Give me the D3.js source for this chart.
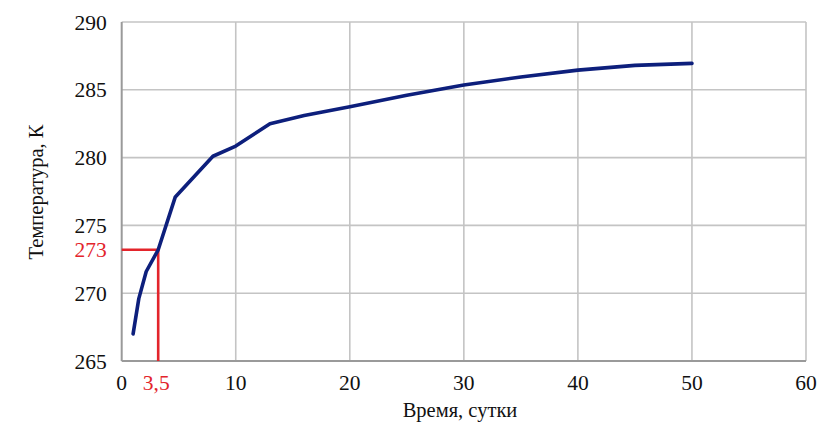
<!DOCTYPE html>
<html><head><meta charset="utf-8">
<script src="https://cdn.jsdelivr.net/npm/d3@7"></script>
<style>body{margin:0;background:#fff}svg{display:block}</style>
</head><body><svg id="c" width="836" height="447"></svg>
<script>
const timeDays = [1.0, 1.5, 2.15, 3.2, 4.7, 8.0, 10, 13.0, 16, 20, 25, 30, 35, 40, 45, 50];
const temperatureK = [267.0, 269.6, 271.6, 273.2, 277.1, 280.1, 280.85, 282.5, 283.1, 283.75, 284.6, 285.35, 285.95, 286.45, 286.8, 286.95];
const xTicks = [0, 10, 20, 30, 40, 50, 60];
const yTicks = [265, 270, 275, 280, 285, 290];
const markerX = 3.2, markerXLabel = "3,5";
const markerY = 273.2, markerYLabel = "273";
const xTitle = "Время, сутки";
const yTitle = "Температура, К";

const FONT = "Liberation Serif";
const svg = d3.select("#c");
const m = {l:121.7, r:806, t:22, b:361};
const x = d3.scaleLinear().domain([0,60]).range([m.l, m.r]);
const y = d3.scaleLinear().domain([265,290]).range([m.b, m.t]);

// grid
svg.append("g").selectAll("line").data(xTicks.slice(1)).join("line")
  .attr("x1", d=>x(d)).attr("x2", d=>x(d)).attr("y1", m.t).attr("y2", m.b)
  .attr("stroke", "#c4c4c4").attr("stroke-width", 1.6);
svg.append("g").selectAll("line").data(yTicks.slice(1)).join("line")
  .attr("x1", m.l).attr("x2", m.r).attr("y1", d=>y(d)).attr("y2", d=>y(d))
  .attr("stroke", "#c4c4c4").attr("stroke-width", 1.6);
// axes lines
svg.append("line").attr("x1", m.l).attr("x2", m.l).attr("y1", m.t).attr("y2", m.b)
  .attr("stroke", "#9a9a9a").attr("stroke-width", 2);
svg.append("line").attr("x1", m.l).attr("x2", m.r).attr("y1", m.b).attr("y2", m.b)
  .attr("stroke", "#9a9a9a").attr("stroke-width", 2);

// tick labels
svg.append("g").selectAll("text").data(yTicks).join("text")
  .attr("x", m.l-15).attr("y", d=>y(d)).attr("dy", "0.35em")
  .attr("text-anchor", "end").attr("font-family", FONT).attr("font-size", 21.5)
  .attr("fill", "#111").text(d=>d);
svg.append("g").selectAll("text").data(xTicks).join("text")
  .attr("x", d=>x(d)).attr("y", m.b+29)
  .attr("text-anchor", "middle").attr("font-family", FONT).attr("font-size", 21.5)
  .attr("fill", "#111").text(d=>d);

// red marker
svg.append("path")
  .attr("d", `M${x(0)},${y(markerY)}H${x(markerX)}V${y(265)}`)
  .attr("fill", "none").attr("stroke", "#e3242b").attr("stroke-width", 2.6);
svg.append("text").attr("x", m.l-15).attr("y", y(markerY)).attr("dy", "0.35em")
  .attr("text-anchor", "end").attr("font-family", FONT).attr("font-size", 21.5)
  .attr("fill", "#e3242b").text(markerYLabel);
svg.append("text").attr("x", x(markerX)-2).attr("y", m.b+29)
  .attr("text-anchor", "middle").attr("font-family", FONT).attr("font-size", 21.5)
  .attr("fill", "#e3242b").text(markerXLabel);

// curve
const pts = timeDays.map((t,i)=>[t, temperatureK[i]]);
svg.append("path").datum(pts)
  .attr("d", d3.line().x(d=>x(d[0])).y(d=>y(d[1])).curve(d3.curveLinear))
  .attr("fill", "none").attr("stroke", "#0d1f7c").attr("stroke-width", 3.6)
  .attr("stroke-linecap", "round").attr("stroke-linejoin", "round");

// titles
svg.append("text").attr("x", 460).attr("y", 417)
  .attr("text-anchor", "middle").attr("font-family", FONT).attr("font-size", 20.5)
  .attr("fill", "#111").text(xTitle);
svg.append("text").attr("transform", `translate(43,192) rotate(-90)`)
  .attr("text-anchor", "middle").attr("font-family", FONT).attr("font-size", 20.5)
  .attr("fill", "#111").text(yTitle);
</script></body></html>
